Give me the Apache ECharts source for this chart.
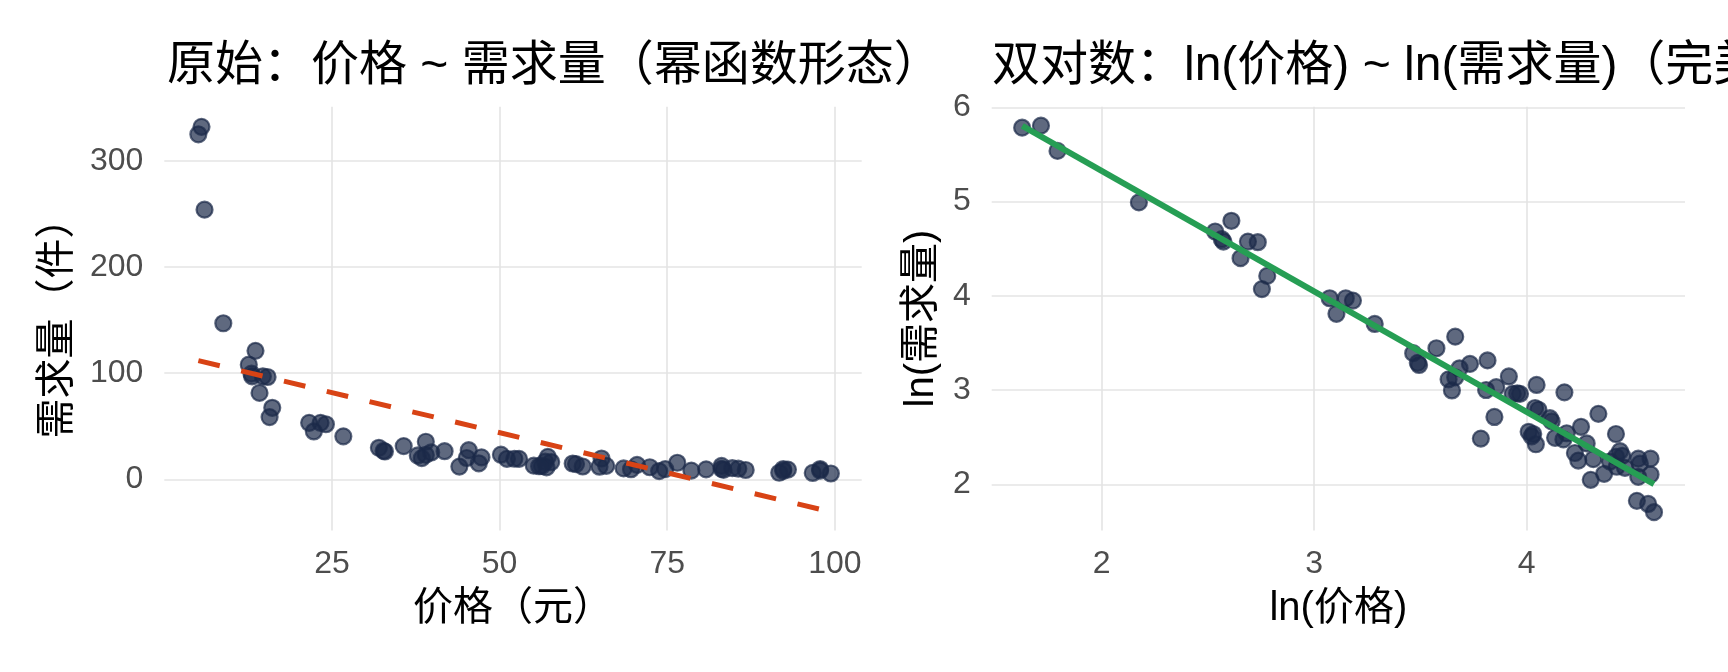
<!DOCTYPE html>
<html>
<head>
<meta charset="utf-8">
<script src="https://cdn.jsdelivr.net/npm/echarts@6/dist/echarts.min.js"></script>
<style>
  html, body { margin: 0; padding: 0; background: #fff; }
  #main { width: 1728px; height: 672px; }
</style>
</head>
<body>
<div id="main"></div>
<script>
// 价格（元）
var price = [5.08, 5.55, 6.0, 8.8, 12.6, 13.0, 13.1, 13.6, 14.2, 14.7, 15.4, 16.1, 15.7,
    21.6, 22.3, 23.3, 24.1, 26.7, 32.0, 32.7, 32.9, 35.7, 39.0, 37.8, 38.4, 39.0, 39.8,
    41.8, 45.4, 45.1, 47.3, 46.9, 44.0, 50.2, 51.1, 52.2, 52.9, 57.2, 56.8, 57.7, 55.1,
    55.9, 57.0, 56.3, 65.2, 60.9, 61.4, 62.4, 64.9, 65.9, 70.5, 76.5, 72.4, 68.5, 69.6,
    74.7, 83.1, 84.7, 83.1, 83.4, 86.7, 85.6, 80.8, 78.6, 73.8, 92.3, 93.0, 92.3, 97.8,
    97.8, 91.7, 96.7, 99.4];
// 需求量（件）
var demand = [325, 332, 254, 147, 108, 99.5, 97, 121, 81.4, 97, 96.4, 67.4, 58.6,
    53.2, 45.1, 53.2, 51.9, 40.5, 29.7, 26.8, 26.2, 31.3, 35.4, 22.5, 20.0, 23.0, 25.3,
    26.5, 27.5, 20.1, 20.7, 15.1, 12.0, 23.2, 19.3, 19.4, 19.3, 21.2, 16.6, 16.3, 12.9,
    12.3, 11.3, 12.6, 19.6, 14.9, 14.4, 12.1, 11.9, 12.7, 13.6, 15.6, 11.4, 10.3, 9.5,
    9.65, 12.6, 10.5, 9.9, 8.9, 8.8, 10.0, 9.4, 8.26, 7.75, 9.7, 9.2, 8.0, 9.7,
    8.2, 6.2, 6.0, 5.5];

// 线性拟合线（原始尺度）端点
var fitPrice = [5.08, 99.4];
var fitDemand = [111.8, -30.7];
// 双对数拟合线端点
var fitLnPrice = [1.626, 4.599];
var fitLnDemand = [5.802, 2.002];

var titleLeft = '原始：价格 ~ 需求量（幂函数形态）';
var titleRight = '双对数：ln(价格) ~ ln(需求量)（完美线性）';

var FONT = '"Liberation Sans", "Noto Sans CJK SC", sans-serif';
var POINT = '#1b2a49';
var GRID_C = '#e4e4e4';

var rawPts = [], lnPts = [];
for (var i = 0; i < price.length; i++) {
    rawPts.push([price[i], demand[i]]);
    lnPts.push([Math.log(price[i]), Math.log(demand[i])]);
}
var fitRaw = [], fitLn = [];
for (var j = 0; j < 2; j++) {
    fitRaw.push([fitPrice[j], fitDemand[j]]);
    fitLn.push([fitLnPrice[j], fitLnDemand[j]]);
}

function valAxis(opt) {
    var base = {
        type: 'value',
        gridIndex: opt.grid,
        min: opt.min,
        max: opt.max,
        splitNumber: opt.split,
        axisLine: { show: false },
        axisTick: { show: false },
        axisLabel: {
            color: '#4d4d4d', fontSize: 32, fontFamily: FONT,
            margin: opt.margin, showMinLabel: false, showMaxLabel: false,
            formatter: function (v) { return String(Math.round(v * 100) / 100); }
        },
        splitLine: { show: true, showMinLine: false, showMaxLine: false,
            lineStyle: { color: GRID_C, width: 1.6 } },
        name: opt.name,
        nameLocation: 'middle',
        nameGap: opt.nameGap,
        nameTextStyle: { color: '#000', fontSize: 40, fontFamily: FONT }
    };
    if (opt.interval) base.interval = opt.interval;
    return base;
}

var chart = echarts.init(document.getElementById('main'), null, { renderer: 'canvas' });
chart.setOption({
    backgroundColor: '#fff',
    animation: false,
    title: [
        { text: titleLeft, left: 167, top: 43, padding: 0,
          textStyle: { fontSize: 48, fontWeight: 'normal', color: '#000', fontFamily: FONT } },
        { text: titleRight, left: 992, top: 43, padding: 0,
          textStyle: { fontSize: 48, fontWeight: 'normal', color: '#000', fontFamily: FONT } }
    ],
    grid: [
        { left: 164.3, top: 106.7, width: 697.4, height: 423.8 },
        { left: 991.7, top: 106.7, width: 693.3, height: 423.8 }
    ],
    xAxis: [
        valAxis({ grid: 0, min: 0, max: 104, interval: 25, margin: 18, name: '价格（元）', nameGap: 58 }),
        valAxis({ grid: 1, min: 1.482, max: 4.745, split: 3, margin: 18, name: 'ln(价格)', nameGap: 58 })
    ],
    yAxis: [
        valAxis({ grid: 0, min: -48.2, max: 351, split: 4, margin: 21, name: '需求量（件）', nameGap: 86 }),
        valAxis({ grid: 1, min: 1.51, max: 6.006, split: 4, margin: 21, name: 'ln(需求量)', nameGap: 50 })
    ],
    series: [
        { type: 'scatter', xAxisIndex: 0, yAxisIndex: 0, data: rawPts, symbolSize: 16,
          itemStyle: { color: POINT, opacity: 0.7, borderColor: POINT, borderWidth: 2.2 } },
        { type: 'line', xAxisIndex: 0, yAxisIndex: 0, data: fitRaw, showSymbol: false, symbol: 'none',
          lineStyle: { color: '#d84315', width: 5, type: [22, 22] }, z: 3 },
        { type: 'scatter', xAxisIndex: 1, yAxisIndex: 1, data: lnPts, symbolSize: 16,
          itemStyle: { color: POINT, opacity: 0.7, borderColor: POINT, borderWidth: 2.2 } },
        { type: 'line', xAxisIndex: 1, yAxisIndex: 1, data: fitLn, showSymbol: false, symbol: 'none',
          lineStyle: { color: '#269e54', width: 6 }, z: 3 }
    ]
});
</script>
</body>
</html>
